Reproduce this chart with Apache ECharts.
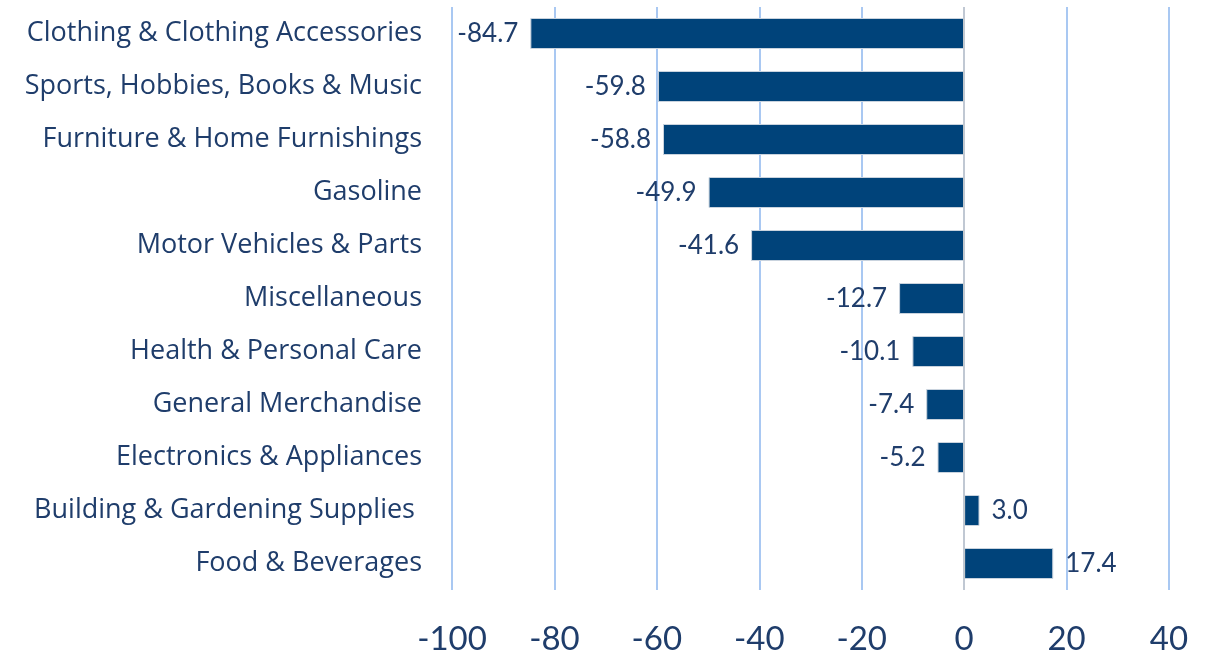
<!DOCTYPE html>
<html>
<head>
<meta charset="utf-8">
<script src="https://cdn.jsdelivr.net/npm/echarts@6/dist/echarts.min.js"></script>
<style>
  html, body { margin: 0; padding: 0; background: #fff; }
  #chart { width: 1214px; height: 656px; }
</style>
</head>
<body>
<div id="chart"></div>
<script>
var categories = [
  'Clothing & Clothing Accessories',
  'Sports, Hobbies, Books & Music',
  'Furniture & Home Furnishings',
  'Gasoline',
  'Motor Vehicles & Parts',
  'Miscellaneous',
  'Health & Personal Care',
  'General Merchandise',
  'Electronics & Appliances',
  'Building & Gardening Supplies ',
  'Food & Beverages'
];
var values = [-84.7, -59.8, -58.8, -49.9, -41.6, -12.7, -10.1, -7.4, -5.2, 3.0, 17.4];

var textColor = '#1f3d6b';
var chart = echarts.init(document.getElementById('chart'));

var barData = values.map(function (v) {
  return {
    value: v,
    label: { position: v < 0 ? 'left' : 'right' }
  };
});

chart.setOption({
  animation: false,
  grid: { left: 452, right: 45, top: 7, bottom: 66, containLabel: false },
  xAxis: {
    type: 'value',
    min: -100,
    max: 40,
    interval: 20,
    axisLine: { show: false },
    axisTick: { show: false },
    axisLabel: { color: textColor, fontSize: 33, fontFamily: 'Lato', margin: 33 },
    splitLine: { lineStyle: { color: '#8cb6ee', width: 1.5 } }
  },
  yAxis: {
    type: 'category',
    data: categories,
    inverse: true,
    axisLine: { show: false },
    axisTick: { show: false },
    axisLabel: { color: textColor, fontSize: 27, fontFamily: 'Open Sans', margin: 30, padding: [2, 0, 0, 0] }
  },
  series: [{
    type: 'bar',
    data: barData,
    barWidth: 31,
    itemStyle: { color: '#00437a', borderColor: '#c9d3de', borderWidth: 1 },
    label: {
      show: true,
      color: textColor,
      fontSize: 26,
      fontFamily: 'Lato',
      distance: 12,
      formatter: function (p) { return p.value.toFixed(1); }
    },
    markLine: {
      silent: true,
      symbol: 'none',
      label: { show: false },
      lineStyle: { color: '#c8c8c8', width: 1.5, type: 'solid' },
      data: [{ xAxis: 0 }]
    }
  }]
});
</script>
</body>
</html>
